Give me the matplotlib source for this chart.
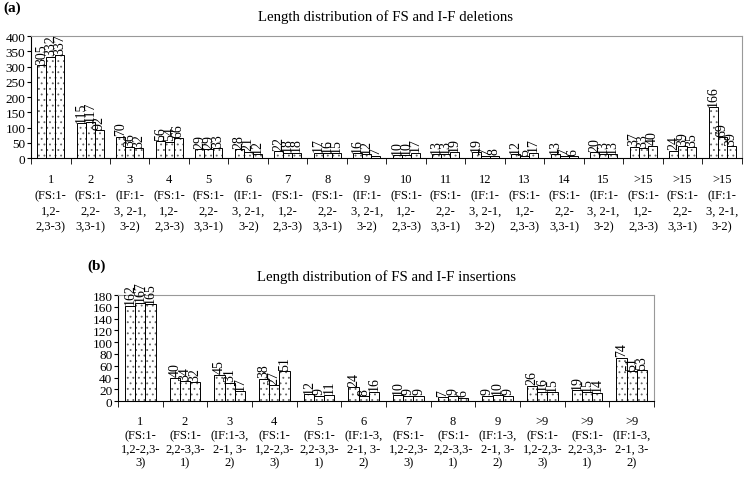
import numpy as np
import matplotlib
matplotlib.use("Agg")
import matplotlib.pyplot as plt

plt.rcParams['font.family'] = ['Liberation Serif', 'DejaVu Serif']
plt.rcParams['hatch.linewidth'] = 0.6

# (a) deletions
del_labels = ["1\n(FS:1-\n1,2-\n2,3-3)", "2\n(FS:1-\n2,2-\n3,3-1)", "3\n(IF:1-\n3, 2-1,\n3-2)",
              "4\n(FS:1-\n1,2-\n2,3-3)", "5\n(FS:1-\n2,2-\n3,3-1)", "6\n(IF:1-\n3, 2-1,\n3-2)",
              "7\n(FS:1-\n1,2-\n2,3-3)", "8\n(FS:1-\n2,2-\n3,3-1)", "9\n(IF:1-\n3, 2-1,\n3-2)",
              "10\n(FS:1-\n1,2-\n2,3-3)", "11\n(FS:1-\n2,2-\n3,3-1)", "12\n(IF:1-\n3, 2-1,\n3-2)",
              "13\n(FS:1-\n1,2-\n2,3-3)", "14\n(FS:1-\n2,2-\n3,3-1)", "15\n(IF:1-\n3, 2-1,\n3-2)",
              ">15\n(FS:1-\n1,2-\n2,3-3)", ">15\n(FS:1-\n2,2-\n3,3-1)", ">15\n(IF:1-\n3, 2-1,\n3-2)"]
del_s1 = [305, 115, 70, 56, 29, 28, 22, 17, 16, 10, 13, 19, 12, 13, 20, 37, 24, 166]
del_s2 = [332, 117, 36, 54, 29, 21, 18, 16, 12, 10, 13, 7, 5, 7, 13, 33, 39, 69]
del_s3 = [337, 92, 32, 66, 33, 12, 18, 15, 7, 17, 19, 8, 17, 6, 13, 40, 35, 39]

# (b) insertions
ins_labels = ["1\n(FS:1-\n1,2-2,3-\n3)", "2\n(FS:1-\n2,2-3,3-\n1)", "3\n(IF:1-3,\n2-1, 3-\n2)",
              "4\n(FS:1-\n1,2-2,3-\n3)", "5\n(FS:1-\n2,2-3,3-\n1)", "6\n(IF:1-3,\n2-1, 3-\n2)",
              "7\n(FS:1-\n1,2-2,3-\n3)", "8\n(FS:1-\n2,2-3,3-\n1)", "9\n(IF:1-3,\n2-1, 3-\n2)",
              ">9\n(FS:1-\n1,2-2,3-\n3)", ">9\n(FS:1-\n2,2-3,3-\n1)", ">9\n(IF:1-3,\n2-1, 3-\n2)"]
ins_s1 = [162, 40, 45, 38, 12, 24, 10, 7, 9, 26, 19, 74]
ins_s2 = [167, 34, 31, 27, 9, 8, 9, 9, 10, 16, 15, 51]
ins_s3 = [165, 32, 17, 51, 11, 16, 9, 6, 9, 15, 14, 53]


def draw(ax, labels, series, ymax, ystep, linesp, pad):
    n = len(labels)
    x = np.arange(n)
    w = 0.228
    for k, vals in enumerate(series):
        xs = x + (k - 1) * w
        ax.bar(xs, vals, w, color='white', edgecolor='#666666', hatch='...', linewidth=0, zorder=2)
        ax.bar(xs, vals, w, fill=False, edgecolor='black', linewidth=0.7, zorder=3)
        for xi, v in zip(xs, vals):
            ax.annotate(str(v), (xi, v), xytext=(0, 1), textcoords='offset points',
                        rotation=90, ha='center', va='bottom', fontsize=10)
    ax.set_xlim(-0.5, n - 0.5)
    ax.set_ylim(0, ymax)
    ax.set_yticks(np.arange(0, ymax + 1, ystep))
    ax.set_xticks(x)
    ax.set_xticklabels(labels, fontsize=9, linespacing=linesp)
    ax.set_xticks(np.arange(-0.5, n, 1), minor=True)
    ax.tick_params(axis='x', which='major', length=0, pad=pad)
    ax.tick_params(axis='x', which='minor', length=4, direction='out')
    ax.tick_params(axis='y', labelsize=9.5, length=3, pad=1)
    for s in ['top', 'right']:
        ax.spines[s].set_color('#999999')
    ax.spines['left'].set_linewidth(0.8)
    ax.spines['bottom'].set_linewidth(0.8)


fig = plt.figure(figsize=(7.44, 4.81), dpi=100)
ax1 = fig.add_axes([0.0417, 0.6694, 0.9553, 0.2536])
draw(ax1, del_labels, [del_s1, del_s2, del_s3], 400, 50, 1.4, 11)
ax2 = fig.add_axes([0.1586, 0.164, 0.7204, 0.2204])
draw(ax2, ins_labels, [ins_s1, ins_s2, ins_s3], 180, 20, 1.2, 10)

fig.text(0.518, 1 - 17 / 481, "Length distribution of FS and I-F deletions",
         fontsize=10.7, ha='center', va='center')
fig.text(0.519, 1 - 277 / 481, "Length distribution of FS and I-F insertions",
         fontsize=10.7, ha='center', va='center')
fig.text(0.004, 1 - 8 / 481, "(a)", fontsize=11, fontweight='bold', va='center')
fig.text(0.118, 1 - 266 / 481, "(b)", fontsize=11, fontweight='bold', va='center')

fig.savefig("out.png", dpi=100)
